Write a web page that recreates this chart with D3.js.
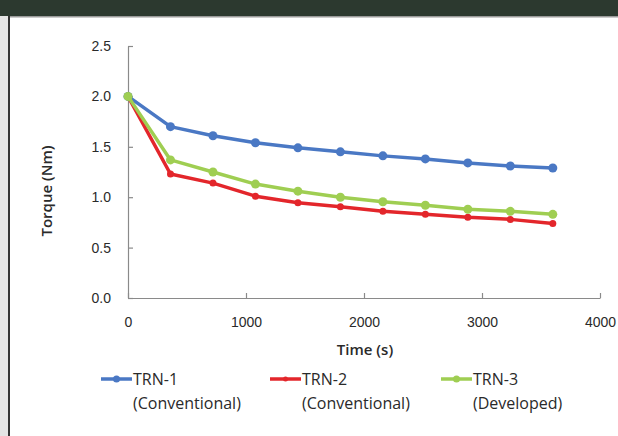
<!DOCTYPE html>
<html>
<head>
<meta charset="utf-8">
<script src="https://cdn.jsdelivr.net/npm/d3@7"></script>
<style>
  body { margin: 0; background: #fff; }
  svg { display: block; font-family: "Open Sans", sans-serif; }
  .axis path, .axis line { stroke: #8a8a8a; stroke-width: 1.2; }
  .axis text { font-size: 14px; fill: #2a2a2a; }
</style>
</head>
<body>
<svg width="618" height="436"></svg>
<script>
const times = [0, 360, 720, 1080, 1440, 1800, 2160, 2520, 2880, 3240, 3600];
const trn1 = [2.0, 1.70, 1.61, 1.54, 1.49, 1.45, 1.41, 1.38, 1.34, 1.31, 1.29];
const trn2 = [2.0, 1.23, 1.14, 1.01, 0.945, 0.905, 0.86, 0.83, 0.80, 0.78, 0.74];
const trn3 = [2.0, 1.37, 1.25, 1.13, 1.06, 1.0, 0.955, 0.92, 0.88, 0.86, 0.83];
const xTicks = [0, 1000, 2000, 3000, 4000];
const yTicks = [0, 0.5, 1.0, 1.5, 2.0, 2.5];

const series = [
  { name: "TRN-1", note: "(Conventional)", values: trn1, color: "#4a78c4", r: 4.5, lx: 101 },
  { name: "TRN-2", note: "(Conventional)", values: trn2, color: "#e3262b", r: 3.5, lx: 270 },
  { name: "TRN-3", note: "(Developed)", values: trn3, color: "#9fce52", r: 4.5, lx: 441 },
];

const svg = d3.select("svg");

// frame from the page scan
svg.append("rect").attr("x", 0).attr("y", 0).attr("width", 8).attr("height", 436).attr("fill", "#e4e4e4");
svg.append("rect").attr("x", 8).attr("y", 0).attr("width", 2).attr("height", 436).attr("fill", "#333");
svg.append("rect").attr("x", 0).attr("y", 0).attr("width", 618).attr("height", 16).attr("fill", "#2c392f");
svg.append("rect").attr("x", 10).attr("y", 16).attr("width", 608).attr("height", 1.5).attr("fill", "#9a9a9a");

const x = d3.scaleLinear().domain([0, 4000]).range([128, 600]);
const y = d3.scaleLinear().domain([0, 2.5]).range([298, 46]);

// X axis
svg
  .append("g")
  .attr("class", "axis")
  .attr("transform", "translate(0," + y(0) + ")")
  .call(d3.axisBottom(x).tickValues(xTicks).tickSizeInner(-5).tickSizeOuter(0).tickPadding(19).tickFormat(d3.format("d")));

// Y axis
svg
  .append("g")
  .attr("class", "axis")
  .attr("transform", "translate(" + x(0) + ",0)")
  .call(d3.axisLeft(y).tickValues(yTicks).tickSizeInner(-5).tickSizeOuter(0).tickPadding(17).tickFormat(d3.format(".1f")));

// axis titles
svg
  .append("text")
  .attr("x", 365)
  .attr("y", 355)
  .attr("text-anchor", "middle")
  .style("font-size", "15px")
  .style("font-weight", 600)
  .attr("fill", "#2a2a2a")
  .text("Time (s)");

svg
  .append("text")
  .attr("text-anchor", "middle")
  .attr("transform", "translate(52,191)rotate(-90)")
  .style("font-size", "15px")
  .style("font-weight", 600)
  .attr("fill", "#2a2a2a")
  .text("Torque (Nm)");

// lines and markers
const line = d3
  .line()
  .x(function (d) {
    return x(d[0]);
  })
  .y(function (d) {
    return y(d[1]);
  });

series.forEach(function (s) {
  const pts = times.map(function (t, i) {
    return [t, s.values[i]];
  });
  svg
    .append("path")
    .datum(pts)
    .attr("d", line)
    .attr("fill", "none")
    .attr("stroke", s.color)
    .attr("stroke-width", 3.5)
    .attr("stroke-linejoin", "round");
  svg
    .append("g")
    .selectAll("circle")
    .data(pts)
    .enter()
    .append("circle")
    .attr("cx", function (d) {
      return x(d[0]);
    })
    .attr("cy", function (d) {
      return y(d[1]);
    })
    .attr("r", s.r)
    .attr("fill", s.color);
});

// legend
series.forEach(function (s) {
  const g = svg.append("g").attr("transform", "translate(" + s.lx + ",379)");
  g.append("line").attr("x1", 0).attr("x2", 31).attr("y1", 0).attr("y2", 0)
    .attr("stroke", s.color).attr("stroke-width", 3.5);
  g.append("circle").attr("cx", 15.5).attr("cy", 0).attr("r", s.r - 1).attr("fill", s.color);
  g.append("text").attr("x", 32).attr("y", 6).style("font-size", "16px").attr("fill", "#2a2a2a").text(s.name);
  g.append("text").attr("x", 32).attr("y", 30).style("font-size", "16px").attr("fill", "#2a2a2a").text(s.note);
});
</script>
</body>
</html>
